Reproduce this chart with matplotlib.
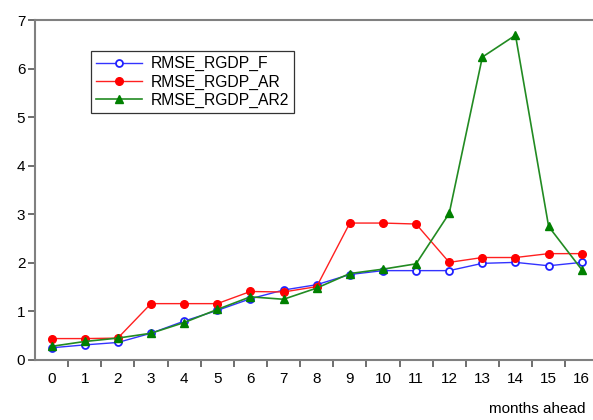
import numpy as np
import matplotlib
matplotlib.use("Agg")
from matplotlib import pyplot as plt

# data
months = list(range(17))
rmse_f = [0.25, 0.31, 0.36, 0.55, 0.80, 1.02, 1.26, 1.44, 1.55, 1.76, 1.84,
          1.84, 1.84, 1.99, 2.01, 1.94, 2.01]
rmse_ar = [0.44, 0.44, 0.45, 1.16, 1.16, 1.16, 1.41, 1.40, 1.51, 2.82, 2.82,
           2.80, 2.01, 2.11, 2.11, 2.19, 2.19]
rmse_ar2 = [0.28, 0.38, 0.45, 0.55, 0.77, 1.04, 1.30, 1.25, 1.48, 1.78, 1.87,
            1.98, 3.02, 6.24, 6.69, 2.75, 1.86]

plt.rcParams['font.family'] = ['Liberation Sans', 'DejaVu Sans']

fig = plt.figure(figsize=(5.93, 4.2), dpi=100)
ax = fig.add_axes([0.059, 0.143, 0.95, 0.809])

ax.plot(months, rmse_f, color='#3333ff', lw=1, marker='o', ms=5,
        mfc='white', mec='#2020ff', mew=1.3, label='RMSE_RGDP_F')
ax.plot(months, rmse_ar, color='#ff2020', lw=1, marker='o', ms=5.5,
        mfc='#ff0000', mec='#ff0000', label='RMSE_RGDP_AR')
ax.plot(months, rmse_ar2, color='#228b22', lw=1.2, marker='^', ms=6,
        mfc='#008000', mec='#008000', label='RMSE_RGDP_AR2')

ax.set_xlim(-0.5, 16.5)
ax.set_ylim(0, 7)
ax.set_xticks(months)
ax.set_xticks(np.arange(0.5, 16.5, 1), minor=True)
ax.tick_params(axis='x', which='major', length=0, pad=9, labelsize=11)
ax.tick_params(axis='x', which='minor', length=5, width=1.2, color='#555555')
ax.tick_params(axis='y', which='major', length=5, width=1.2, color='#555555',
               labelsize=11, pad=2)
ax.set_yticks(range(8))

for s in ['left', 'bottom', 'top']:
    ax.spines[s].set_color('#808080')
    ax.spines[s].set_linewidth(1.5)
ax.spines['right'].set_visible(False)

leg = ax.legend(loc='upper left', bbox_to_anchor=(0.1, 0.908), fontsize=11.3,
                frameon=True, fancybox=False, edgecolor='black',
                handlelength=2.9, borderpad=0.3, labelspacing=0.2,
                handletextpad=0.6, borderaxespad=0)
leg.get_frame().set_linewidth(0.9)

fig.text(0.988, 0.01, 'months ahead', ha='right', va='bottom', fontsize=11)

fig.savefig('out.png', dpi=100)
